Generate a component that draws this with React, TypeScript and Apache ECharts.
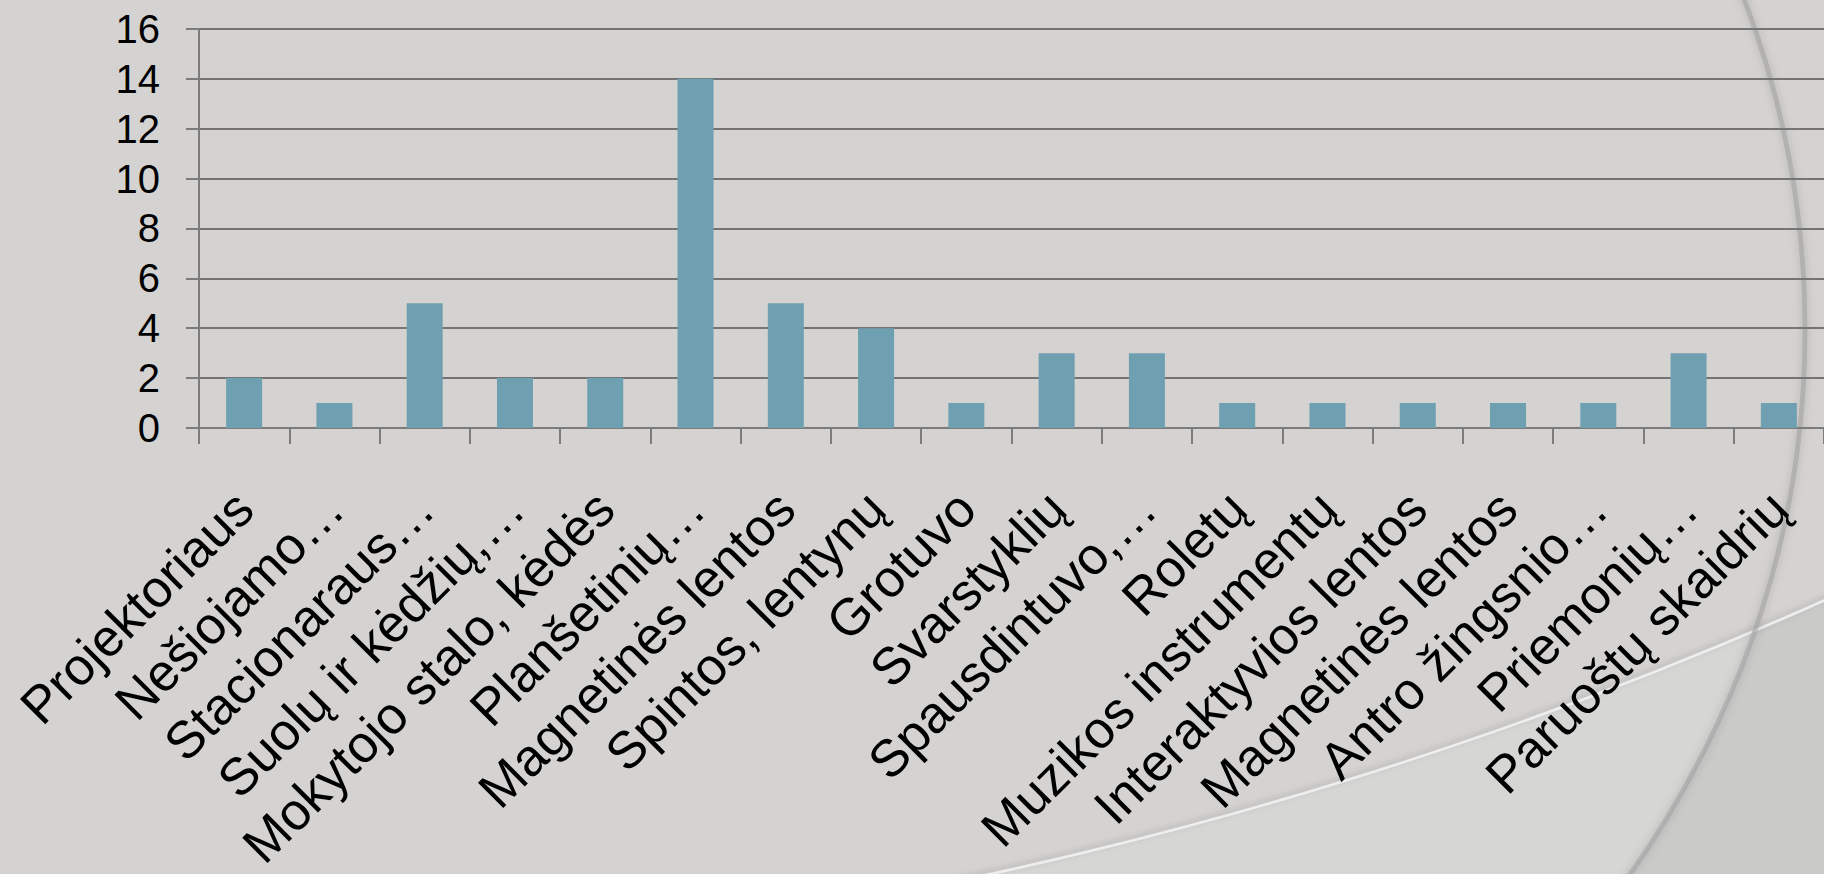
import React, { useEffect, useRef } from "react";
import * as echarts from "echarts";

const categories = [
  "Projektoriaus",
  "Nešiojamo…",
  "Stacionaraus…",
  "Suolų ir kėdžių,…",
  "Mokytojo stalo, kėdės",
  "Planšetinių…",
  "Magnetinės lentos",
  "Spintos, lentynų",
  "Grotuvo",
  "Svarstyklių",
  "Spausdintuvo,…",
  "Roletų",
  "Muzikos instrumentų",
  "Interaktyvios lentos",
  "Magnetinės lentos",
  "Antro žingsnio…",
  "Priemonių…",
  "Paruoštų skaidrių",
];

const values = [2, 1, 5, 2, 2, 14, 5, 4, 1, 3, 3, 1, 1, 1, 1, 1, 3, 1];

const yTicks = { min: 0, max: 16, interval: 2 };

const W = 1824;
const H = 874;

export default function App() {
  const ref = useRef<HTMLDivElement>(null);

  useEffect(() => {
    if (!ref.current) return;
    const chart = echarts.init(ref.current, null, { renderer: "svg" });
    const font = "'Liberation Sans', Arial, sans-serif";
    const ell = { cx: 700, cy: 330, rx: 1105, ry: 1007 };
    const big = { cx: 76, cy: -3315, r: 4288 };
    chart.setOption({
      animation: false,
      backgroundColor: "transparent",
      graphic: [
        {
          type: "rect",
          silent: true,
          z: -10,
          shape: { x: 0, y: 0, width: W, height: H },
          style: { fill: "#cacac9" },
        },
        {
          type: "ellipse",
          silent: true,
          z: -9,
          shape: ell,
          style: { fill: "#d6d6d5" },
        },
        {
          type: "circle",
          silent: true,
          z: -8,
          shape: big,
          style: { fill: "#d4d3d1" },
        },
        {
          type: "circle",
          silent: true,
          z: -7,
          shape: big,
          style: {
            fill: "none",
            stroke: "rgba(240,240,240,0.95)",
            lineWidth: 2.5,
            shadowBlur: 6,
            shadowColor: "rgba(0,0,0,0.22)",
            shadowOffsetY: -2,
          },
        },
        {
          type: "ellipse",
          silent: true,
          z: -6,
          shape: ell,
          style: {
            fill: "none",
            stroke: "rgba(160,160,160,0.6)",
            lineWidth: 5,
            shadowBlur: 8,
            shadowColor: "rgba(0,0,0,0.25)",
          },
        },
      ],
      grid: { left: 199, top: 29, width: 1632, height: 403, containLabel: false },
      xAxis: {
        type: "category",
        data: categories,
        boundaryGap: true,
        axisLine: { show: true, lineStyle: { color: "#7c7c7c", width: 2 } },
        axisTick: {
          show: true,
          alignWithLabel: false,
          interval: 0,
          length: 16,
          lineStyle: { color: "#7c7c7c", width: 2 },
        },
        axisLabel: {
          interval: 0,
          rotate: 45,
          margin: 72,
          fontSize: 52,
          color: "#000",
          fontFamily: font,
        },
        splitLine: { show: false },
      },
      yAxis: {
        type: "value",
        min: yTicks.min,
        max: yTicks.max,
        interval: yTicks.interval,
        axisLine: { show: true, lineStyle: { color: "#7c7c7c", width: 2 } },
        axisTick: { show: true, length: 13, lineStyle: { color: "#7c7c7c", width: 2 } },
        axisLabel: {
          margin: 39,
          fontSize: 40,
          color: "#000",
          fontFamily: font,
        },
        splitLine: { show: true, lineStyle: { color: "#747474", width: 2 } },
      },
      series: [
        {
          type: "bar",
          data: values,
          barWidth: 36,
          itemStyle: { color: "#6fa0b1" },
        },
      ],
    });
    return () => chart.dispose();
  }, []);

  return (
    <div
      ref={ref}
      style={{ position: "absolute", left: 0, top: 0, width: W, height: H, overflow: "hidden" }}
    />
  );
}
